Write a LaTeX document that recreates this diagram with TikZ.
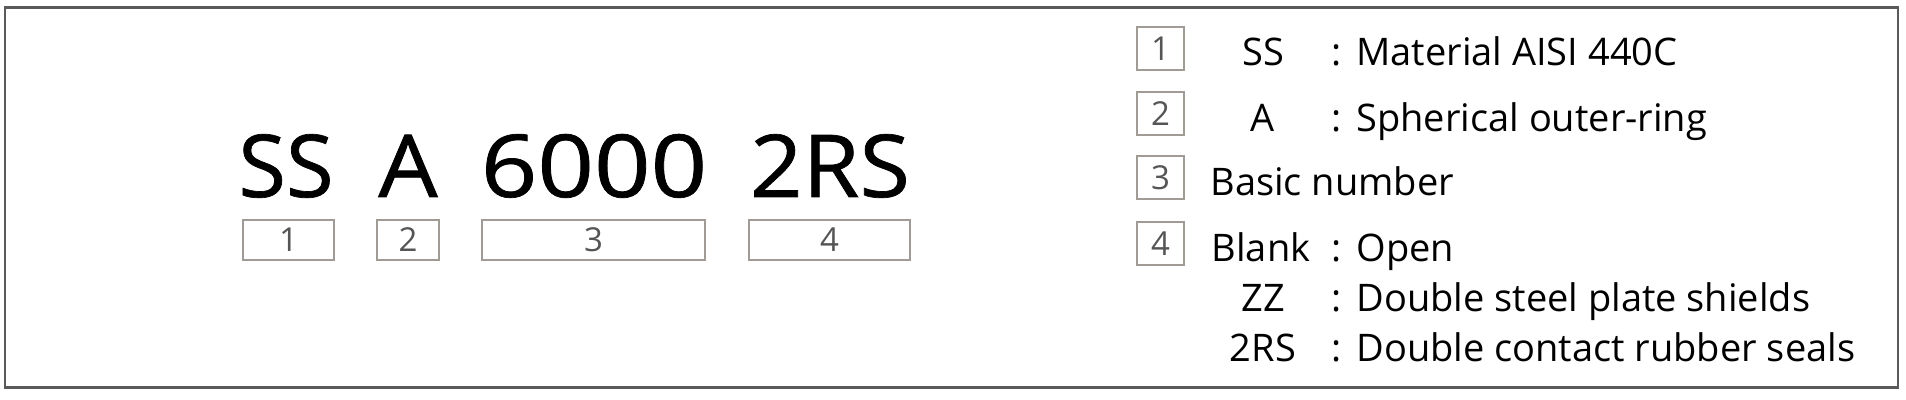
\documentclass[tikz,border=0pt]{standalone}
\usepackage{fontspec}
\setmainfont{Open Sans}
\newfontfamily\codefont[FakeBold=0.8]{Open Sans}

\definecolor{framegray}{HTML}{5A5A5A}
\definecolor{boxgray}{HTML}{A19B95}
\definecolor{numgray}{HTML}{555555}

\tikzset{
  code/.style = {font=\codefont\fontsize{43.4}{50}\selectfont, inner sep=0pt, anchor=base},
  numbox/.style = {draw=boxgray, line width=1pt, inner sep=0pt, text=numgray,
    font=\fontsize{16.5}{18}\selectfont},
  keytext/.style = {font=\fontsize{19}{22}\selectfont, inner sep=0pt, anchor=base},
  desc/.style = {keytext, anchor=base west},
}

\begin{document}
\begin{tikzpicture}[x=0.5pt, y=-0.5pt]
\useasboundingbox (0,0) rectangle (1906,400);
\draw[framegray, line width=1.2pt] (5,7.5) rectangle (1898,387.5);

%code parts
\node[code] (ss)   at (286,197) {SS};
\node[code] (a)    at (408,197) {\scalebox{1.08}[1]{A}};
\node[code] (num)  at (594,197) {\scalebox{1.14}[1]{6000}};
\node[code] (seal) at (830,197) {\scalebox{1.06}[1]{2RS}};

%boxes under the code
\foreach \name/\x/\w/\n in {b1/288.5/91/1, b2/408/62/2, b3/593.5/223/3, b4/829.5/161/4}
  {\node[numbox, minimum width=\w*0.5pt, minimum height=20pt] (\name) at (\x,240) {\n};}

%legend
\foreach \n/\y in {1/48.5, 2/114, 3/178, 4/244}
  {\node[numbox, minimum width=23.5pt, minimum height=21.5pt] (k\n) at (1160.5,\y) {\n};}

\node[keytext] (kss)   at (1263,66)  {SS};
\node[keytext] (ka)    at (1263,132) {A};
\node[keytext] (kblank) at (1261,262) {Blank};
\node[keytext] (kzz)   at (1263,312) {ZZ};
\node[keytext] (k2rs)  at (1263,362) {2RS};

\foreach \name/\y in {c1/66, c2/132, c4/262, c5/312, c6/362}
  {\node[keytext] (\name) at (1337,\y) {:};}

\node[desc] (dss)   at (1356,66)  {Material AISI 440C};
\node[desc] (da)    at (1356,132) {Spherical outer-ring};
\node[desc] (dnum)  at (1210,196) {Basic number};
\node[desc] (dopen) at (1356,262) {Open};
\node[desc] (dzz)   at (1356,312) {Double steel plate shields};
\node[desc] (d2rs)  at (1356,362) {Double contact rubber seals};

\end{tikzpicture}
\end{document}
